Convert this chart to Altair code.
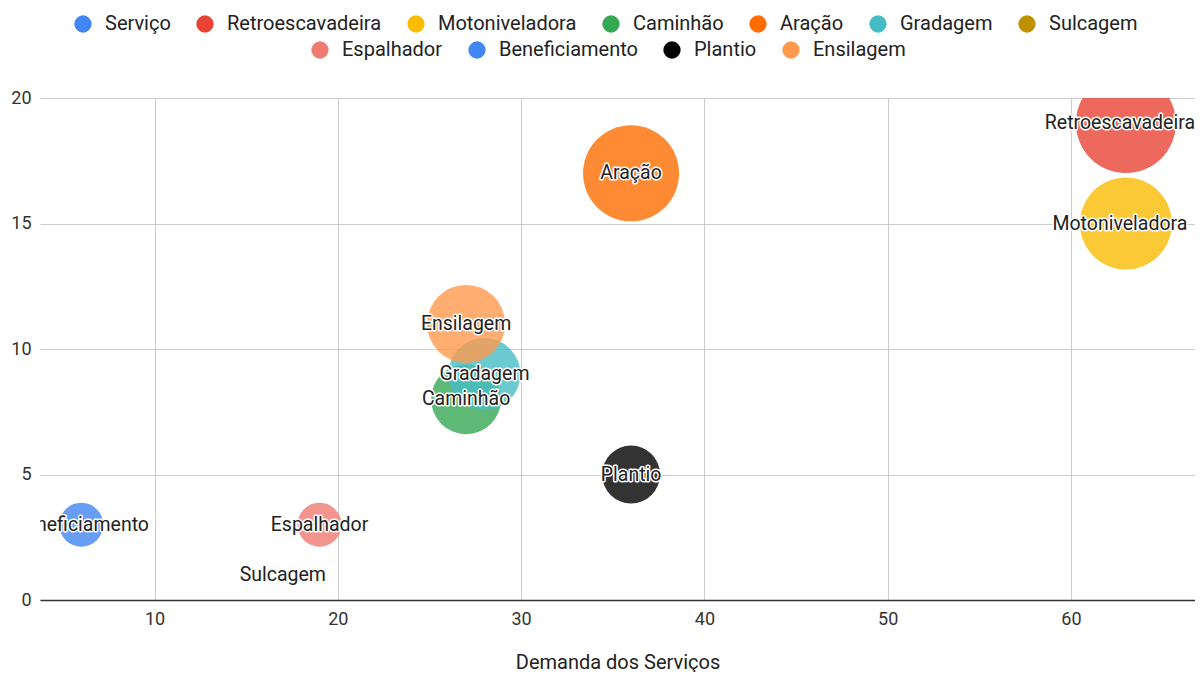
import altair as alt
import pandas as pd

# Data
servicos = ["Retroescavadeira", "Motoniveladora", "Caminhão", "Aração", "Gradagem",
            "Sulcagem", "Espalhador", "Beneficiamento", "Plantio", "Ensilagem"]
demanda = [63, 63, 27, 36, 28, 17, 19, 6, 36, 27]
valor_y = [19, 15, 8, 17, 9, 1, 3, 3, 5, 11]
tamanho = [50, 46, 35, 48, 36, 3, 22, 22, 29, 39]

legend_names = ["Serviço"] + servicos
legend_colors = ["#4285F4", "#EA4335", "#FBBC04", "#34A853", "#FF6D01", "#46BDC6",
                 "#BF9000", "#F07B72", "#4285F4", "#000000", "#FF994D"]
row1 = legend_names[:7]
row2 = legend_names[7:]

df = pd.DataFrame({"servico": servicos, "x": demanda, "y": valor_y, "t": tamanho})

FONT = "Roboto"
W, H = 1155, 502

xs = alt.Scale(domain=[3.75, 66.77], nice=False, zero=False)
ys = alt.Scale(domain=[0, 20], nice=False)

def color_enc(values, lx, ly):
    return alt.Color(
        "servico:N",
        scale=alt.Scale(domain=legend_names, range=legend_colors),
        legend=alt.Legend(
            title=None, orient="none", legendX=lx, legendY=ly,
            direction="horizontal", columns=len(values), values=values,
            symbolType="circle", symbolSize=300, symbolOpacity=1,
            symbolStrokeWidth=0, labelFont=FONT, labelFontSize=20,
            labelColor="#222222", labelOffset=12, columnPadding=24,
            labelLimit=300,
        ),
    )

base = alt.Chart(df)

bubbles = base.mark_circle(opacity=0.8, clip=True).encode(
    x=alt.X("x:Q", scale=xs, title="Demanda dos Serviços",
            axis=alt.Axis(values=[10, 20, 30, 40, 50, 60], grid=True,
                          domain=True, domainColor="#333333", domainWidth=1.5,
                          ticks=False, labelPadding=10, titlePadding=24)),
    y=alt.Y("y:Q", scale=ys, title=None,
            axis=alt.Axis(values=[0, 5, 10, 15, 20], grid=True, domain=False,
                          ticks=False, labelPadding=9)),
    size=alt.Size("t:Q", scale=alt.Scale(type="pow", exponent=2, domain=[0, 50],
                                         range=[0, 10000]), legend=None),
    color=color_enc(row1, 33, -84),
)

ghost = base.mark_circle(opacity=0).encode(
    x=alt.X("x:Q", scale=xs),
    y=alt.Y("y:Q", scale=ys),
    color=color_enc(row2, 270, -58),
)

def text_layers(clip, flt, dx=0):
    b = base.transform_filter(flt)
    enc = dict(x=alt.X("x:Q", scale=xs), y=alt.Y("y:Q", scale=ys), text="servico:N")
    halo = b.mark_text(font=FONT, fontSize=19.5, stroke="white", strokeWidth=3,
                       strokeJoin="round", fill="white", clip=clip, dx=dx,
                       baseline="middle").encode(**enc)
    lab = b.mark_text(font=FONT, fontSize=19.5, color="#222222", clip=clip, dx=dx,
                      baseline="middle").encode(**enc)
    return [halo, lab]

layers = ([bubbles, ghost]
          + text_layers(True, alt.datum.x < 30)
          + text_layers(False, (alt.datum.x >= 30) & (alt.datum.x < 60))
          + text_layers(False, alt.datum.x >= 60, dx=-6))

chart = alt.layer(*layers).resolve_scale(
    color="independent"
).properties(
    width=W, height=H,
    autosize=alt.AutoSizeParams(type="none"),
    padding={"left": 32, "top": 90, "right": 0, "bottom": 72},
).configure_view(stroke=None).configure_axis(
    labelFont=FONT, labelFontSize=18, labelColor="#333333",
    titleFont=FONT, titleFontSize=20, titleFontWeight="normal", titleColor="#222222",
    gridColor="#cccccc", gridWidth=1,
)

chart.save("out.html", embed_options={"renderer": "svg", "actions": False})
